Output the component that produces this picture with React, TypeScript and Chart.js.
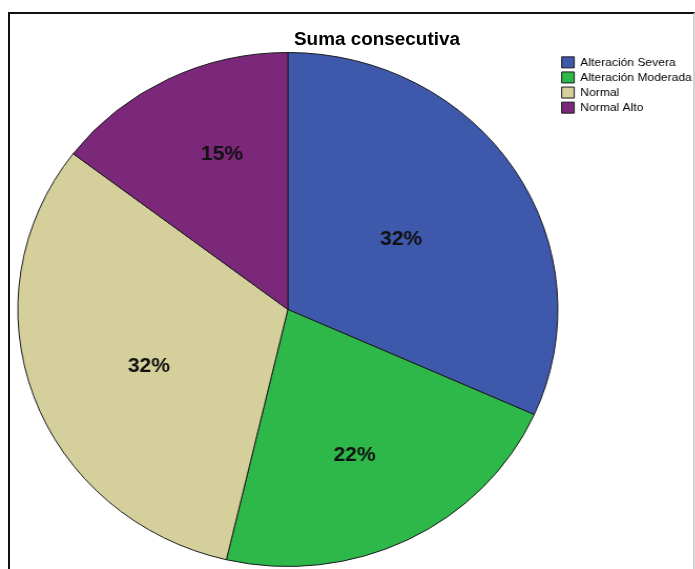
import React, { useEffect, useRef } from "react";
import { Chart, registerables } from "chart.js";

Chart.register(...registerables);

// ---- data ----
const categories = ["Alteración Severa", "Alteración Moderada", "Normal", "Normal Alto"];
const counts = [13, 9, 13, 6];
const sliceColors = ["#3E58AB", "#2EB84A", "#D5CF9C", "#7C287A"];
const titleText = "Suma consecutiva";

// ---- presentation ----
const SCALE_X = 1.0506; // reference image is slightly stretched horizontally
const FONT = "Arial, 'Liberation Sans', sans-serif";
const labelRadiusFraction = [0.5, 0.62, 0.56, 0.65];
const labelAngleShift = [0, 0.05, -0.06, 0.075];

const percentLabels = {
  id: "percentLabels",
  afterDatasetsDraw(chart: any) {
    const { ctx } = chart;
    const meta = chart.getDatasetMeta(0);
    const data = chart.data.datasets[0].data as number[];
    const total = data.reduce((a, b) => a + b, 0);
    ctx.save();
    ctx.font = `bold 20px ${FONT}`;
    ctx.fillStyle = "#111111";
    ctx.textAlign = "center";
    ctx.textBaseline = "middle";
    meta.data.forEach((arc: any, i: number) => {
      const p = arc.getProps(["x", "y", "startAngle", "endAngle", "outerRadius"], true);
      const mid = (p.startAngle + p.endAngle) / 2 + labelAngleShift[i];
      const r = p.outerRadius * labelRadiusFraction[i];
      const text = Math.round((data[i] / total) * 100) + "%";
      ctx.fillText(text, p.x + Math.cos(mid) * r, p.y + Math.sin(mid) * r);
    });
    ctx.restore();
  },
};

export default function App() {
  const canvasRef = useRef<HTMLCanvasElement | null>(null);

  useEffect(() => {
    if (!canvasRef.current) return;
    const chart = new Chart(canvasRef.current, {
      type: "pie",
      data: {
        labels: categories,
        datasets: [
          {
            data: counts,
            backgroundColor: sliceColors,
            borderColor: "#1a1a1a",
            borderWidth: 1,
          },
        ],
      },
      options: {
        responsive: false,
        animation: false,
        events: [],
        radius: 257,
        layout: { padding: { left: 17, right: 19, top: 53, bottom: 3 } },
        plugins: {
          title: { display: false },
          tooltip: { enabled: false },
          legend: {
            position: "right",
            align: "start",
            maxWidth: 130,
            labels: {
              font: { family: FONT, size: 11.5 },
              color: "#000000",
              boxWidth: 12,
              boxHeight: 11,
              padding: 3.6,
            },
          },
        },
      } as any,
      plugins: [percentLabels],
    });
    return () => chart.destroy();
  }, []);

  return (
    <div
      style={{
        position: "fixed",
        left: 0,
        top: 0,
        width: 695,
        height: 569,
        overflow: "hidden",
        background: "#ffffff",
      }}
    >
      <canvas
        ref={canvasRef}
        width={680}
        height={569}
        style={{
          position: "absolute",
          left: 0,
          top: 0,
          transform: `scaleX(${SCALE_X})`,
          transformOrigin: "0 0",
        }}
      />
      <div
        style={{
          position: "absolute",
          left: 8,
          top: 12,
          width: 687,
          height: 620,
          boxSizing: "border-box",
          borderLeft: "2px solid #111",
          borderTop: "2px solid #111",
          borderRight: "2px solid #d4d4d4",
          pointerEvents: "none",
        }}
      />
      <div
        style={{
          position: "absolute",
          left: 0,
          top: 30,
          width: 754,
          textAlign: "center",
          font: `bold 18px ${FONT}`,
          lineHeight: "18px",
          color: "#000",
          transform: "scaleX(1.05)",
          transformOrigin: "377px 0",
          whiteSpace: "nowrap",
        }}
      >
        {titleText}
      </div>
    </div>
  );
}
